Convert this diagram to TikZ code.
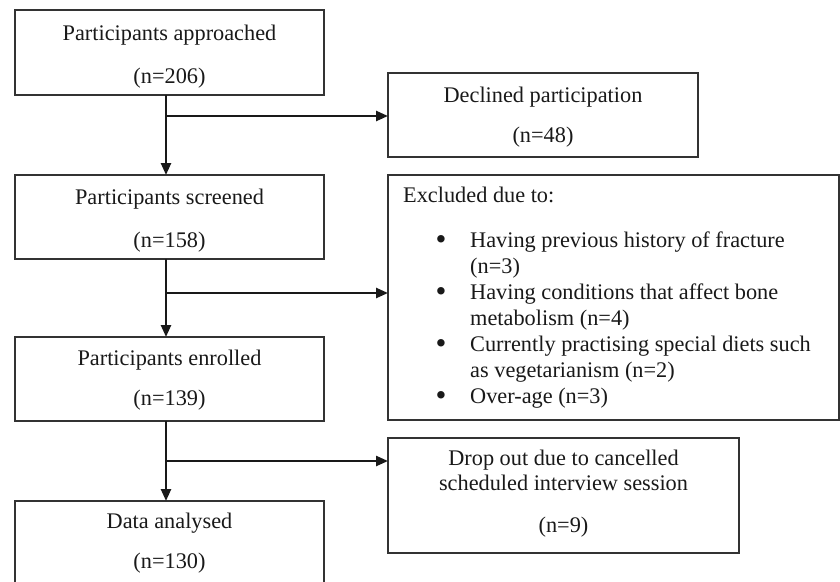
\documentclass[tikz,border=0pt]{standalone}
\usepackage{fontspec}
\setmainfont{Liberation Serif}
\usetikzlibrary{arrows.meta}
\begin{document}
\begin{tikzpicture}[x=1pt,y=-1pt,
  box/.style={draw=black!80, line width=1.4pt, inner sep=0pt, outer sep=0pt},
  lbl/.style={anchor=base, inner sep=0pt, text=black!90, font=\fontsize{22.3}{26}\selectfont},
  lblw/.style={lbl, anchor=base west},
  bul/.style={lbl, font=\fontsize{31}{26}\selectfont},
  arr/.style={line width=2.4pt, black!90, -{Triangle[length=12pt,width=10pt]}}]
\clip (0,0) rectangle (840,581);
\fill[white] (0,0) rectangle (840,581);
% boxes
\node[box, minimum width=309pt, minimum height=85pt] (b1) at (169.5,52.5) {};
\node[box, minimum width=310pt, minimum height=84pt] (dec) at (543,115) {};
\node[box, minimum width=309pt, minimum height=84pt] (b2) at (169.5,217) {};
\node[box, minimum width=451pt, minimum height=245pt] (exc) at (613.5,297.5) {};
\node[box, minimum width=309pt, minimum height=84pt] (b3) at (169.5,379) {};
\node[box, minimum width=351pt, minimum height=115pt] (drop) at (563.5,495.5) {};
\node[box, minimum width=309pt, minimum height=99pt] (b4) at (169.5,550.5) {};
% texts
\node[lbl] (t1a) at (169.5,40) {Participants approached};
\node[lbl] (t1b) at (169.5,83) {(n=206)};
\node[lbl] (tda) at (543,102) {Declined participation};
\node[lbl] (tdb) at (543,142) {(n=48)};
\node[lbl] (t2a) at (169.5,204) {Participants screened};
\node[lbl] (t2b) at (169.5,247) {(n=158)};
\node[lbl] (t3a) at (169.5,365) {Participants enrolled};
\node[lbl] (t3b) at (169.5,405) {(n=139)};
\node[lbl] (t4a) at (169.5,528) {Data analysed};
\node[lbl] (t4b) at (169.5,568) {(n=130)};
\node[lbl] (tpa) at (563.5,465) {Drop out due to cancelled};
\node[lbl] (tpb) at (563.5,490) {scheduled interview session};
\node[lbl] (tpc) at (563.5,532) {(n=9)};
\node[lblw] (tex) at (403,202) {Excluded due to:};
\node[bul] (bu1) at (441,249) {\textbullet};
\node[lblw] (e1a) at (470,247) {Having previous history of fracture};
\node[lblw] (e1b) at (470,273) {(n=3)};
\node[bul] (bu2) at (441,301) {\textbullet};
\node[lblw] (e2a) at (470,299) {Having conditions that affect bone};
\node[lblw] (e2b) at (470,325) {metabolism (n=4)};
\node[bul] (bu3) at (441,353) {\textbullet};
\node[lblw] (e3a) at (470,351) {Currently practising special diets such};
\node[lblw] (e3b) at (470,377) {as vegetarianism (n=2)};
\node[bul] (bu4) at (441,405) {\textbullet};
\node[lblw] (e4a) at (470,403) {Over-age (n=3)};
% connectors
\coordinate (sp) at (166,0);
\coordinate (j1) at (166,116);
\coordinate (j2) at (166,293);
\coordinate (j3) at (166,461);
\draw[arr] (b1.south -| sp) -- (b2.north -| sp);
\draw[arr] (b2.south -| sp) -- (b3.north -| sp);
\draw[arr] (b3.south -| sp) -- (b4.north -| sp);
\draw[arr] (j1) -- (j1 -| dec.west);
\draw[arr] (j2) -- (j2 -| exc.west);
\draw[arr] (j3) -- (j3 -| drop.west);
\end{tikzpicture}
\end{document}
